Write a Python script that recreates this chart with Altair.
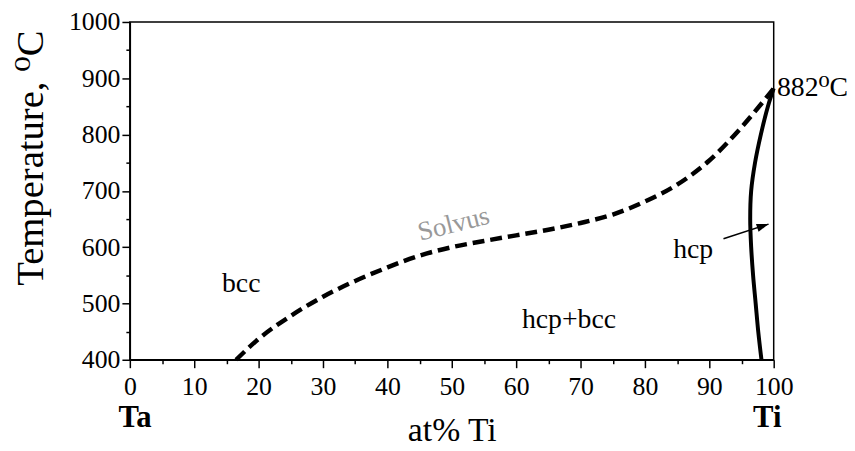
import altair as alt
import pandas as pd

# Solvus (dashed) curve: at% Ti vs temperature
solvus_x = [16.5, 20, 25, 30, 35, 40, 45, 50, 55, 60, 65, 70, 75, 80, 85, 90, 95, 100]
solvus_T = [400, 437, 478, 512, 540, 564, 585, 600, 611, 621, 631, 643, 658, 681, 711, 754, 813, 882]

# hcp boundary (solid)
hcp_x = [98.1, 97.6, 97.2, 96.8, 96.5, 96.35, 96.5, 97.1, 98.0, 99.1, 100]
hcp_T = [400, 450, 500, 550, 600, 650, 700, 750, 800, 850, 882]

# arrow from "hcp" label to the hcp field
arrow_x = [92.2, 99.2]
arrow_T = [615, 641]

# region labels
label_text = ["bcc", "hcp+bcc", "hcp"]
label_x = [17.3, 68.2, 87.5]
label_T = [521, 456, 581]

solvus_label = ["Solvus"]
solvus_label_x = [50.6]
solvus_label_T = [627]

melt_label = ["882\u2070C"]
melt_x = [100.5]
melt_T = [868]

elem_text = ["Ta", "Ti"]
elem_x = [0.8, 99.0]
elem_T = [280, 280]

FONT = "Liberation Serif, DejaVu Serif, serif"

axis_style = dict(
    labelFont=FONT, labelFontSize=26, labelColor="black",
    titleFont=FONT, titleFontWeight="normal", titleColor="black",
    domainColor="black", domainWidth=1.5, tickColor="black", tickWidth=1.5,
    labelFlush=False, labelOverlap=False, grid=False, format="d",
)

x_enc = alt.X(
    "x:Q",
    scale=alt.Scale(domain=[0, 100], nice=False, zero=False),
    axis=alt.Axis(
        title="at% Ti",
        titleFontSize=34,
        values=list(range(0, 101, 5)),
        labelExpr="datum.value % 10 === 0 ? datum.label : ''",
        tickSize={"condition": {"test": "datum.value % 10 === 0", "value": 8}, "value": 4},
        labelPadding=6,
        titlePadding=15,
        **axis_style,
    ),
)
y_enc = alt.Y(
    "T:Q",
    scale=alt.Scale(domain=[400, 1000], nice=False, zero=False),
    axis=alt.Axis(
        title="Temperature, \u2070C",
        titleFontSize=39,
        values=list(range(400, 1001, 50)),
        labelExpr="datum.value % 100 === 0 ? datum.label : ''",
        tickSize={"condition": {"test": "datum.value % 100 === 0", "value": 8}, "value": 4},
        labelPadding=2,
        titlePadding=18,
        titleY=137,
        **axis_style,
    ),
)

solvus_df = pd.DataFrame({"x": solvus_x, "T": solvus_T})
hcp_df = pd.DataFrame({"x": hcp_x, "T": hcp_T, "o": list(range(len(hcp_x)))})
arrow_df = pd.DataFrame({"x": arrow_x, "T": arrow_T})
head_df = pd.DataFrame({"x": [arrow_x[1]], "T": [arrow_T[1]]})
labels_df = pd.DataFrame({"x": label_x, "T": label_T, "t": label_text})
solvus_lab_df = pd.DataFrame({"x": solvus_label_x, "T": solvus_label_T, "t": solvus_label})
melt_df = pd.DataFrame({"x": melt_x, "T": melt_T, "t": melt_label})
elem_df = pd.DataFrame({"x": elem_x, "T": elem_T, "t": elem_text})

solvus = alt.Chart(solvus_df).mark_line(
    color="black", strokeWidth=4.5, strokeDash=[12, 6], interpolate="monotone"
).encode(x=x_enc, y=y_enc)

hcp = alt.Chart(hcp_df).mark_line(
    color="black", strokeWidth=4, interpolate="catmull-rom"
).encode(x=x_enc, y=y_enc, order="o:Q")

arrow = alt.Chart(arrow_df).mark_line(color="black", strokeWidth=1.5).encode(x=x_enc, y=y_enc)

head = alt.Chart(head_df).mark_point(
    shape="M0,0 L-2,-0.7 L-2,0.7 Z", filled=True, color="black", size=144,
    angle=341.6, opacity=1,
).encode(x=x_enc, y=y_enc)

labels = alt.Chart(labels_df).mark_text(
    font=FONT, fontSize=28, color="black", align="center", baseline="alphabetic"
).encode(x=x_enc, y=y_enc, text="t:N")

solvus_lab = alt.Chart(solvus_lab_df).mark_text(
    font=FONT, fontSize=27, color="#999999", align="center", baseline="alphabetic", angle=346
).encode(x=x_enc, y=y_enc, text="t:N")

melt = alt.Chart(melt_df).mark_text(
    font=FONT, fontSize=28, color="black", align="left", baseline="alphabetic"
).encode(x=x_enc, y=y_enc, text="t:N")

elem = alt.Chart(elem_df).mark_text(
    font=FONT, fontSize=31, fontWeight="bold", color="black", align="center", baseline="alphabetic"
).encode(x=x_enc, y=y_enc, text="t:N")

chart = alt.layer(
    solvus, hcp, arrow, head, labels, solvus_lab, melt, elem
).properties(
    width=650,
    height=341,
    autosize="none",
    padding={"left": 123, "top": 12, "right": 74, "bottom": 90},
).configure_view(
    stroke="black", strokeWidth=1.5
)

chart.save("out.html", embed_options={"renderer": "svg", "actions": False})
